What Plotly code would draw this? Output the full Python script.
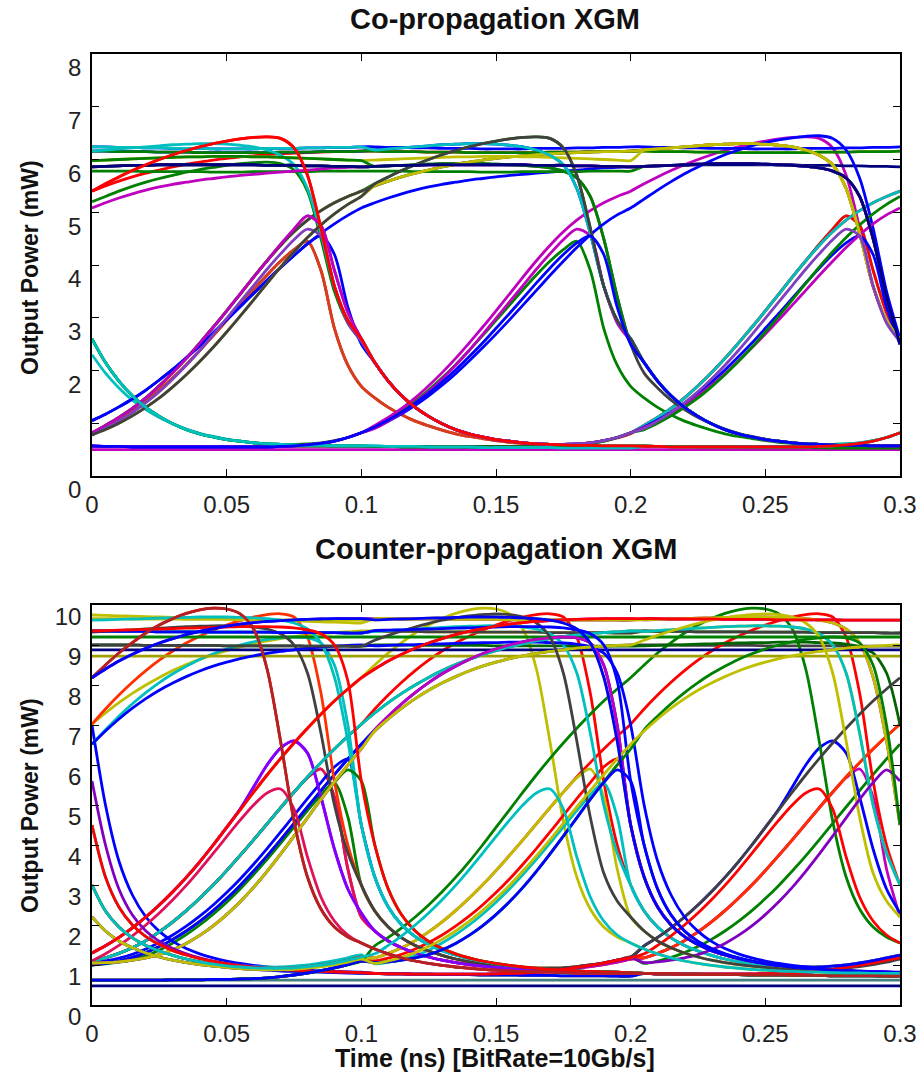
import plotly.graph_objects as go

# ---------------- time grid of one bit slot (ns) ----------------
SLOT_T = [0.000, 0.005, 0.010, 0.015, 0.020, 0.025, 0.030, 0.035, 0.040, 0.045,
          0.050, 0.055, 0.060, 0.065, 0.070, 0.075, 0.080, 0.085, 0.090, 0.095, 0.100]
SLOT_START = [0.0, 0.1, 0.2]
X_TICKS = [0, 0.05, 0.1, 0.15, 0.2, 0.25, 0.3]
X_TICK_TEXT = ["0", "0.05", "0.1", "0.15", "0.2", "0.25", "0.3"]
CO_Y_TICKS = [0, 1, 2, 3, 4, 5, 6, 7, 8]
CO_Y_TEXT = ["0", "", "2", "3", "4", "5", "6", "7", "8"]
CT_Y_TICKS = [0, 1, 2, 3, 4, 5, 6, 7, 8, 9, 10]
CT_Y_TEXT = ["0", "1", "2", "3", "4", "5", "6", "7", "8", "9", "10"]

# ---------------- Co-propagation: per-slot waveform shapes (mW) ----------------
CO_LOW_A = [0.50, 0.50, 0.50, 0.50, 0.50, 0.50, 0.50, 0.50, 0.50, 0.50, 0.50, 0.50, 0.50, 0.50, 0.50, 0.50, 0.50, 0.50, 0.50, 0.50, 0.50]
CO_LOW_B = [0.56, 0.56, 0.56, 0.56, 0.56, 0.56, 0.56, 0.56, 0.56, 0.56, 0.56, 0.56, 0.56, 0.56, 0.56, 0.56, 0.56, 0.56, 0.56, 0.56, 0.56]
CO_LOW_C = [0.57, 0.57, 0.56, 0.56, 0.56, 0.55, 0.55, 0.55, 0.55, 0.54, 0.54, 0.54, 0.54, 0.54, 0.54, 0.53, 0.53, 0.53, 0.53, 0.53, 0.53]
CO_LOW_UP = [0.57, 0.56, 0.56, 0.55, 0.55, 0.55, 0.55, 0.55, 0.55, 0.55, 0.55, 0.55, 0.55, 0.55, 0.56, 0.57, 0.59, 0.62, 0.66, 0.73, 0.82]
CO_DECAY_A = [2.60, 2.15, 1.80, 1.52, 1.30, 1.13, 0.99, 0.88, 0.80, 0.74, 0.69, 0.66, 0.63, 0.61, 0.60, 0.59, 0.58, 0.58, 0.57, 0.57, 0.57]
CO_DECAY_A_UP = [2.60, 2.15, 1.80, 1.52, 1.30, 1.13, 0.99, 0.88, 0.80, 0.74, 0.69, 0.66, 0.63, 0.61, 0.60, 0.60, 0.61, 0.63, 0.67, 0.73, 0.82]
CO_DECAY_B = [1.70, 1.48, 1.30, 1.16, 1.04, 0.95, 0.87, 0.80, 0.75, 0.71, 0.67, 0.64, 0.62, 0.60, 0.59, 0.58, 0.57, 0.57, 0.56, 0.56, 0.56]
CO_DECAY_B_UP = [1.70, 1.48, 1.30, 1.16, 1.04, 0.95, 0.87, 0.80, 0.75, 0.71, 0.67, 0.64, 0.62, 0.60, 0.59, 0.59, 0.60, 0.62, 0.66, 0.72, 0.80]
CO_DECAY_C = [2.30, 1.95, 1.67, 1.44, 1.26, 1.11, 0.99, 0.89, 0.81, 0.75, 0.70, 0.66, 0.63, 0.61, 0.60, 0.59, 0.58, 0.58, 0.57, 0.57, 0.57]
CO_RISE_FALL_HI = [0.82, 0.96, 1.11, 1.28, 1.48, 1.71, 1.96, 2.23, 2.52, 2.82, 3.13, 3.45, 3.77, 4.08, 4.39, 4.68, 4.93, 4.75, 3.90, 3.10, 2.60]
CO_RISE_FALL_MID = [0.78, 0.90, 1.04, 1.20, 1.39, 1.60, 1.84, 2.10, 2.38, 2.68, 2.99, 3.30, 3.61, 3.92, 4.21, 4.48, 4.68, 4.55, 3.60, 2.90, 2.55]
CO_RISE_FALL_LO = [0.80, 0.93, 1.07, 1.23, 1.42, 1.63, 1.86, 2.11, 2.38, 2.66, 2.95, 3.24, 3.53, 3.81, 4.07, 4.29, 4.45, 3.90, 2.80, 2.10, 1.70]
CO_RISE_FALL_B = [1.05, 1.17, 1.31, 1.46, 1.63, 1.82, 2.02, 2.24, 2.47, 2.71, 2.96, 3.21, 3.46, 3.71, 3.95, 4.18, 4.40, 4.55, 4.20, 3.20, 2.50]
CO_RISE_FALL_B2 = [0.82, 0.93, 1.06, 1.21, 1.38, 1.57, 1.78, 2.01, 2.26, 2.52, 2.80, 3.08, 3.37, 3.66, 3.94, 4.20, 4.42, 4.55, 4.20, 3.20, 2.50]
CO_RISE_CONT_A = [0.82, 0.96, 1.11, 1.28, 1.48, 1.71, 1.96, 2.23, 2.52, 2.82, 3.13, 3.45, 3.77, 4.08, 4.37, 4.63, 4.85, 5.03, 5.18, 5.30, 5.40]
CO_RISE_CONT_B = [1.05, 1.17, 1.31, 1.46, 1.63, 1.82, 2.02, 2.24, 2.47, 2.71, 2.96, 3.21, 3.46, 3.71, 3.95, 4.18, 4.40, 4.60, 4.78, 4.94, 5.08]
CO_RISE_CONT_B2 = [0.82, 0.92, 1.04, 1.18, 1.34, 1.52, 1.72, 1.94, 2.18, 2.43, 2.69, 2.96, 3.24, 3.52, 3.80, 4.07, 4.33, 4.57, 4.78, 4.95, 5.08]
CO_RISE_CONT_C = [0.78, 0.88, 1.00, 1.14, 1.30, 1.48, 1.69, 1.92, 2.17, 2.44, 2.73, 3.03, 3.34, 3.65, 3.96, 4.25, 4.52, 4.76, 4.97, 5.15, 5.30]
CO_H2_CONT_A = [5.40, 5.50, 5.59, 5.67, 5.74, 5.80, 5.86, 5.91, 5.95, 5.99, 6.02, 6.05, 6.07, 6.09, 6.11, 6.12, 6.13, 6.14, 6.15, 6.15, 6.16]
CO_H2_CONT_B = [5.08, 5.18, 5.27, 5.35, 5.42, 5.48, 5.53, 5.57, 5.61, 5.64, 5.67, 5.70, 5.72, 5.74, 5.76, 5.78, 5.80, 5.82, 5.84, 5.85, 5.86]
CO_H2_FALL_A = [5.40, 5.54, 5.67, 5.79, 5.90, 6.00, 6.09, 6.17, 6.24, 6.30, 6.35, 6.39, 6.42, 6.43, 6.40, 6.22, 5.70, 4.70, 3.60, 2.95, 2.60]
CO_H2_FALL_B = [5.08, 5.25, 5.42, 5.58, 5.73, 5.86, 5.98, 6.09, 6.18, 6.26, 6.32, 6.37, 6.41, 6.44, 6.45, 6.40, 6.18, 5.65, 4.70, 3.50, 2.60]
CO_H2_FALL_C = [5.20, 5.30, 5.40, 5.49, 5.57, 5.64, 5.70, 5.76, 5.81, 5.85, 5.89, 5.92, 5.94, 5.95, 5.92, 5.80, 5.40, 4.50, 3.50, 2.90, 2.55]
CO_HIGH_A = [6.16, 6.16, 6.15, 6.15, 6.15, 6.14, 6.14, 6.14, 6.13, 6.13, 6.13, 6.13, 6.13, 6.13, 6.14, 6.14, 6.14, 6.15, 6.15, 6.15, 6.16]
CO_HIGH_B = [5.86, 5.87, 5.88, 5.89, 5.89, 5.90, 5.90, 5.90, 5.90, 5.90, 5.90, 5.90, 5.90, 5.89, 5.89, 5.89, 5.88, 5.88, 5.87, 5.87, 5.86]
CO_HIGH_C = [6.24, 6.24, 6.23, 6.23, 6.22, 6.22, 6.21, 6.21, 6.21, 6.20, 6.20, 6.20, 6.20, 6.21, 6.21, 6.21, 6.22, 6.22, 6.23, 6.23, 6.24]
CO_HIGH_D = [5.98, 5.99, 6.00, 6.01, 6.02, 6.03, 6.04, 6.05, 6.05, 6.06, 6.06, 6.06, 6.05, 6.05, 6.04, 6.03, 6.02, 6.01, 6.00, 5.99, 5.98]
CO_HIGH_E = [5.78, 5.78, 5.78, 5.78, 5.77, 5.77, 5.77, 5.77, 5.77, 5.76, 5.76, 5.76, 5.77, 5.77, 5.77, 5.77, 5.77, 5.78, 5.78, 5.78, 5.78]
CO_HIGH_FALL_A = [6.16, 6.18, 6.20, 6.22, 6.24, 6.26, 6.28, 6.29, 6.30, 6.30, 6.29, 6.27, 6.24, 6.18, 6.08, 5.90, 5.45, 4.60, 3.60, 2.95, 2.60]
CO_HIGH_FALL_B = [5.86, 5.87, 5.88, 5.89, 5.90, 5.91, 5.92, 5.92, 5.92, 5.92, 5.91, 5.90, 5.89, 5.87, 5.84, 5.78, 5.65, 5.30, 4.50, 3.40, 2.50]

CO_PATTERNS = [
    ("rise_fall_hi", "decay_a", "low_c"),
    ("rise_fall_lo", "decay_b_up", "rise_cont_a"),
    ("rise_fall_lo", "decay_b", "low_c"),
    ("rise_cont_a", "h2_fall_a", "decay_a"),
    ("rise_cont_a", "h2_cont_a", "high_a"),
    ("rise_cont_b", "h2_cont_b", "high_fall_b"),
    ("rise_cont_a", "h2_cont_a", "high_fall_a"),
    ("decay_a", "low_up", "rise_fall_hi"),
    ("decay_a_up", "rise_fall_lo", "decay_b"),
    ("decay_c", "low_c", "low_up"),
    ("low_a", "low_a", "low_a"),
    ("low_b", "low_b", "low_b"),
    ("low_up", "rise_cont_a", "h2_fall_a"),
    ("h2_fall_a", "decay_a_up", "rise_fall_hi"),
    ("h2_fall_c", "decay_a", "low_c"),
    ("h2_cont_a", "high_a", "high_fall_a"),
    ("high_a", "high_fall_a", "decay_a"),
    ("high_c", "high_c", "high_c"),
    ("high_b", "high_b", "high_b"),
    ("high_a", "high_a", "high_a"),
    ("high_d", "high_d", "high_fall_a"),
    ("high_fall_a", "decay_a_up", "rise_cont_a"),
    ("high_e", "high_e", "high_fall_b"),
    ("h2_cont_b", "high_b", "high_fall_b"),
    ("high_b", "high_fall_b", "decay_c"),
    ("rise_fall_b", "decay_a_up", "rise_fall_b2"),
    ("high_d", "high_fall_b", "decay_a_up"),
    ("low_up", "rise_cont_b2", "h2_fall_b"),
    ("rise_fall_hi", "decay_a_up", "rise_cont_b2"),
    ("low_up", "rise_fall_mid", "decay_a"),
    ("decay_a", "low_up", "rise_cont_c"),
    ("rise_cont_c", "h2_cont_a", "high_fall_a"),
    ("rise_fall_mid", "decay_a_up", "rise_fall_mid"),
    ("high_c", "high_fall_a", "decay_a_up"),
    ("rise_cont_c", "h2_fall_a", "decay_a"),
    ("high_b", "high_b", "high_fall_b"),
    ("decay_a", "low_c", "low_up"),
    ("low_up", "rise_fall_b2", "decay_a"),
    ("h2_fall_a", "decay_a", "low_up"),
]
CO_COLORS = [
    "#7F3FBF", "#FF0000", "#D2401E", "#008000", "#BFBF00", "#0000FF", "#404040",
    "#00BFBF", "#008000", "#00BFBF", "#BF00BF", "#404040", "#BF00BF", "#FF0000",
    "#008000", "#FF0000", "#0000FF", "#0000FF", "#00007F", "#008000", "#BFBF00",
    "#00BFBF", "#008000", "#BF00BF", "#404040", "#0000FF", "#008000", "#0000FF",
    "#BF00BF", "#BF00BF", "#008000", "#BFBF00", "#7F3FBF", "#00BFBF", "#404040",
    "#00007F", "#00BFBF", "#0000FF", "#FF0000",
]

# ---------------- Counter-propagation: per-slot waveform shapes (mW) ----------------
CT_LOW_A = [0.62, 0.62, 0.62, 0.62, 0.62, 0.62, 0.62, 0.62, 0.62, 0.62, 0.62, 0.62, 0.62, 0.62, 0.62, 0.62, 0.62, 0.62, 0.62, 0.62, 0.62]
CT_LOW_B = [0.48, 0.48, 0.48, 0.48, 0.48, 0.48, 0.48, 0.48, 0.48, 0.48, 0.48, 0.48, 0.48, 0.48, 0.48, 0.48, 0.48, 0.48, 0.48, 0.48, 0.48]
CT_LOW_UP = [0.62, 0.62, 0.62, 0.62, 0.62, 0.62, 0.63, 0.63, 0.63, 0.64, 0.64, 0.65, 0.66, 0.68, 0.71, 0.75, 0.80, 0.86, 0.93, 1.01, 1.10]
CT_LOW_C = [0.79, 0.79, 0.78, 0.78, 0.77, 0.77, 0.76, 0.76, 0.76, 0.75, 0.75, 0.75, 0.74, 0.74, 0.74, 0.73, 0.73, 0.73, 0.73, 0.72, 0.72]
CT_LOW_C_UP = [0.79, 0.79, 0.78, 0.78, 0.77, 0.77, 0.77, 0.77, 0.77, 0.77, 0.78, 0.79, 0.80, 0.82, 0.85, 0.89, 0.94, 0.99, 1.05, 1.12, 1.18]
CT_DECAY_A = [2.20, 1.85, 1.60, 1.43, 1.30, 1.20, 1.12, 1.06, 1.01, 0.97, 0.94, 0.91, 0.89, 0.87, 0.85, 0.84, 0.83, 0.82, 0.81, 0.80, 0.79]
CT_DECAY_A_UP = [2.20, 1.85, 1.60, 1.43, 1.30, 1.20, 1.12, 1.06, 1.01, 0.97, 0.94, 0.91, 0.89, 0.88, 0.88, 0.89, 0.92, 0.96, 1.01, 1.07, 1.15]
CT_DECAY_B = [3.00, 2.35, 1.95, 1.68, 1.49, 1.35, 1.24, 1.15, 1.08, 1.02, 0.98, 0.94, 0.91, 0.89, 0.87, 0.85, 0.84, 0.83, 0.82, 0.81, 0.80]
CT_DECAY_B_UP = [3.00, 2.35, 1.95, 1.68, 1.49, 1.35, 1.24, 1.15, 1.08, 1.02, 0.98, 0.95, 0.93, 0.92, 0.92, 0.93, 0.96, 1.00, 1.05, 1.12, 1.20]
CT_DECAY_C = [4.50, 3.20, 2.45, 2.00, 1.71, 1.51, 1.36, 1.25, 1.16, 1.09, 1.03, 0.98, 0.94, 0.91, 0.89, 0.87, 0.85, 0.84, 0.83, 0.82, 0.81]
CT_DECAY_C_UP = [4.50, 3.20, 2.45, 2.00, 1.71, 1.51, 1.36, 1.25, 1.16, 1.09, 1.03, 0.99, 0.96, 0.95, 0.95, 0.97, 1.00, 1.05, 1.11, 1.18, 1.25]
CT_DECAY_D = [7.00, 5.00, 3.60, 2.75, 2.20, 1.84, 1.59, 1.41, 1.28, 1.18, 1.10, 1.04, 0.99, 0.95, 0.92, 0.89, 0.87, 0.85, 0.84, 0.83, 0.82]
CT_DECAY_E = [1.55, 1.40, 1.28, 1.18, 1.10, 1.04, 0.99, 0.95, 0.92, 0.89, 0.87, 0.85, 0.84, 0.83, 0.82, 0.81, 0.80, 0.80, 0.79, 0.79, 0.79]
CT_DECAY_G = [5.60, 4.00, 2.90, 2.25, 1.85, 1.59, 1.41, 1.28, 1.18, 1.10, 1.04, 0.99, 0.95, 0.92, 0.89, 0.87, 0.85, 0.84, 0.83, 0.82, 0.81]
CT_RISE_FALL_A = [1.10, 1.18, 1.29, 1.43, 1.61, 1.83, 2.08, 2.36, 2.67, 3.00, 3.36, 3.74, 4.13, 4.53, 4.93, 5.32, 5.68, 5.90, 5.20, 3.40, 2.20]
CT_RISE_FALL_B = [1.30, 1.48, 1.69, 1.93, 2.20, 2.50, 2.83, 3.19, 3.58, 4.00, 4.44, 4.90, 5.45, 6.00, 6.42, 6.60, 6.30, 5.20, 3.90, 2.90, 2.30]
CT_RISE_FALL_C = [1.05, 1.10, 1.17, 1.27, 1.40, 1.56, 1.75, 1.97, 2.22, 2.50, 2.81, 3.15, 3.52, 3.91, 4.32, 4.74, 5.16, 5.56, 5.95, 6.15, 4.50]
CT_RISE_FALL_D = [1.00, 1.03, 1.07, 1.13, 1.23, 1.37, 1.55, 1.76, 2.00, 2.27, 2.57, 2.90, 3.26, 3.64, 4.04, 4.45, 4.86, 5.25, 5.55, 4.70, 3.00]
CT_RISE_FALL_E = [1.05, 1.06, 1.08, 1.12, 1.18, 1.26, 1.38, 1.54, 1.74, 1.98, 2.26, 2.58, 2.94, 3.34, 3.77, 4.22, 4.68, 5.14, 5.56, 5.88, 5.60]
CT_RISE_FALL_F = [1.10, 1.28, 1.49, 1.73, 2.00, 2.30, 2.63, 2.99, 3.38, 3.79, 4.21, 4.62, 5.00, 5.30, 5.40, 4.90, 3.70, 2.70, 2.10, 1.75, 1.55]
CT_RISE_CONT_A = [1.10, 1.18, 1.29, 1.43, 1.61, 1.83, 2.08, 2.36, 2.67, 3.00, 3.36, 3.74, 4.13, 4.53, 4.93, 5.32, 5.70, 6.06, 6.40, 6.72, 7.02]
CT_RISE_CONT_B = [1.30, 1.48, 1.69, 1.93, 2.20, 2.50, 2.83, 3.19, 3.58, 4.00, 4.44, 4.88, 5.32, 5.75, 6.16, 6.55, 6.92, 7.27, 7.60, 7.90, 8.18]
CT_RISE_CONT_C = [1.00, 1.04, 1.10, 1.19, 1.31, 1.46, 1.64, 1.85, 2.09, 2.36, 2.66, 2.99, 3.35, 3.73, 4.13, 4.54, 4.95, 5.36, 5.76, 6.15, 6.52]
CT_RISE_CONT_D = [1.05, 1.06, 1.08, 1.12, 1.18, 1.26, 1.38, 1.54, 1.74, 1.98, 2.26, 2.58, 2.94, 3.34, 3.77, 4.22, 4.68, 5.14, 5.58, 6.00, 6.40]
CT_H2_CONT_A = [7.02, 7.30, 7.56, 7.79, 8.00, 8.19, 8.36, 8.51, 8.64, 8.76, 8.86, 8.95, 9.03, 9.10, 9.16, 9.21, 9.25, 9.28, 9.31, 9.33, 9.35]
CT_H2_CONT_B = [8.18, 8.40, 8.60, 8.77, 8.92, 9.05, 9.16, 9.26, 9.34, 9.41, 9.47, 9.52, 9.56, 9.59, 9.61, 9.63, 9.64, 9.65, 9.66, 9.66, 9.66]
CT_H2_CONT_C = [6.52, 6.85, 7.15, 7.42, 7.66, 7.87, 8.05, 8.21, 8.35, 8.47, 8.57, 8.66, 8.73, 8.79, 8.84, 8.88, 8.92, 8.95, 8.97, 8.99, 9.00]
CT_H2_FALL_A = [7.02, 7.40, 7.75, 8.07, 8.36, 8.62, 8.85, 9.05, 9.22, 9.37, 9.50, 9.61, 9.70, 9.76, 9.78, 9.70, 9.20, 7.80, 5.60, 4.00, 3.00]
CT_H2_FALL_B = [8.18, 8.50, 8.80, 9.06, 9.30, 9.50, 9.66, 9.79, 9.88, 9.92, 9.90, 9.78, 9.40, 8.40, 6.60, 4.60, 3.20, 2.40, 1.95, 1.70, 1.55]
CT_H2_FALL_C = [6.52, 6.88, 7.22, 7.53, 7.81, 8.06, 8.28, 8.47, 8.64, 8.78, 8.90, 9.00, 9.08, 9.14, 9.18, 9.20, 9.18, 9.05, 8.50, 7.00, 4.50]
CT_HIGH_A = [9.66, 9.66, 9.66, 9.65, 9.65, 9.65, 9.65, 9.64, 9.64, 9.64, 9.64, 9.63, 9.63, 9.63, 9.63, 9.63, 9.62, 9.62, 9.62, 9.62, 9.62]
CT_HIGH_B = [9.35, 9.35, 9.34, 9.34, 9.34, 9.33, 9.33, 9.33, 9.33, 9.32, 9.32, 9.32, 9.32, 9.32, 9.31, 9.31, 9.31, 9.31, 9.31, 9.30, 9.30]
CT_HIGH_C = [9.00, 9.00, 9.00, 9.00, 8.99, 8.99, 8.99, 8.99, 8.99, 8.99, 8.98, 8.98, 8.98, 8.98, 8.98, 8.98, 8.97, 8.97, 8.97, 8.97, 8.97]
CT_HIGH_D = [8.88, 8.88, 8.88, 8.88, 8.88, 8.88, 8.88, 8.88, 8.88, 8.88, 8.88, 8.88, 8.88, 8.88, 8.88, 8.88, 8.88, 8.88, 8.88, 8.88, 8.88]
CT_HIGH_E = [9.75, 9.74, 9.73, 9.72, 9.71, 9.70, 9.69, 9.68, 9.67, 9.66, 9.65, 9.64, 9.63, 9.62, 9.61, 9.60, 9.59, 9.58, 9.57, 9.56, 9.55]
CT_HIGH_F = [9.20, 9.20, 9.20, 9.20, 9.20, 9.20, 9.20, 9.20, 9.20, 9.20, 9.20, 9.20, 9.20, 9.20, 9.20, 9.20, 9.20, 9.20, 9.20, 9.20, 9.20]
CT_HIGH_G = [8.72, 8.72, 8.72, 8.72, 8.72, 8.72, 8.72, 8.72, 8.72, 8.72, 8.72, 8.72, 8.72, 8.72, 8.72, 8.72, 8.72, 8.72, 8.72, 8.72, 8.72]
CT_HIGH_FALL_A = [9.62, 9.63, 9.64, 9.65, 9.66, 9.67, 9.68, 9.69, 9.70, 9.70, 9.70, 9.69, 9.68, 9.66, 9.62, 9.55, 9.40, 9.05, 8.20, 6.60, 4.50]
CT_HIGH_FALL_B = [9.32, 9.34, 9.36, 9.38, 9.40, 9.42, 9.44, 9.46, 9.47, 9.48, 9.48, 9.47, 9.45, 9.40, 9.28, 9.00, 8.30, 6.80, 5.00, 3.80, 3.00]
CT_HIGH_FALL_C = [8.97, 8.98, 8.99, 9.00, 9.01, 9.02, 9.03, 9.04, 9.05, 9.06, 9.06, 9.07, 9.07, 9.07, 9.06, 9.05, 9.02, 8.95, 8.80, 8.30, 7.00]
CT_HIGH_FALL_D = [9.00, 9.12, 9.24, 9.35, 9.45, 9.54, 9.62, 9.68, 9.73, 9.76, 9.78, 9.76, 9.70, 9.55, 9.20, 8.30, 6.60, 4.70, 3.30, 2.60, 2.20]
CT_HIGH_FALL_E = [9.35, 9.36, 9.37, 9.38, 9.39, 9.40, 9.41, 9.42, 9.43, 9.44, 9.45, 9.46, 9.46, 9.46, 9.45, 9.43, 9.38, 9.28, 9.00, 8.10, 5.60]

CT_PATTERNS = [
    ("rise_fall_a", "decay_a_up", "rise_cont_a"),
    ("rise_fall_a", "decay_a", "low_c"),
    ("rise_fall_b", "decay_a_up", "rise_fall_a"),
    ("rise_fall_c", "decay_c", "low_c_up"),
    ("rise_fall_d", "decay_b_up", "rise_cont_c"),
    ("rise_cont_a", "h2_fall_a", "decay_b"),
    ("rise_cont_b", "h2_cont_b", "high_fall_a"),
    ("rise_cont_c", "h2_cont_c", "high_c"),
    ("rise_cont_a", "h2_cont_a", "high_b"),
    ("rise_cont_b", "h2_fall_b", "decay_e"),
    ("rise_cont_c", "h2_fall_c", "decay_c_up"),
    ("decay_d", "low_c_up", "rise_fall_b"),
    ("decay_c_up", "rise_fall_d", "decay_b"),
    ("decay_b_up", "rise_cont_a", "h2_fall_a"),
    ("decay_b", "low_c", "low_c_up"),
    ("decay_a_up", "rise_fall_a", "decay_a"),
    ("decay_a", "low_c", "low_c"),
    ("low_a", "low_a", "low_a"),
    ("low_b", "low_b", "low_b"),
    ("low_up", "rise_fall_c", "decay_c"),
    ("low_up", "rise_cont_b", "h2_fall_b"),
    ("h2_cont_a", "high_b", "high_fall_b"),
    ("h2_fall_a", "decay_b_up", "rise_cont_a"),
    ("h2_fall_b", "decay_e", "low_c_up"),
    ("h2_cont_b", "high_a", "high_a"),
    ("h2_fall_c", "decay_c", "low_c"),
    ("high_e", "high_a", "high_fall_a"),
    ("high_a", "high_fall_a", "decay_c_up"),
    ("high_b", "high_b", "high_b"),
    ("high_c", "high_c", "high_fall_c"),
    ("high_d", "high_d", "high_d"),
    ("high_f", "high_f", "high_f"),
    ("high_g", "high_g", "high_g"),
    ("high_b", "high_fall_b", "decay_b"),
    ("high_fall_b", "decay_b_up", "rise_cont_b"),
    ("high_fall_a", "decay_c", "low_c"),
    ("h2_cont_c", "high_fall_c", "decay_d"),
    ("rise_fall_b", "decay_a", "low_c_up"),
    ("rise_cont_a", "h2_cont_a", "high_fall_b"),
    ("rise_fall_e", "decay_g", "low_c"),
    ("rise_fall_f", "decay_e", "low_c_up"),
    ("rise_cont_d", "h2_fall_c", "decay_c"),
    ("rise_cont_d", "h2_cont_c", "high_fall_d"),
    ("decay_g", "low_c_up", "rise_fall_e"),
    ("decay_c", "low_c_up", "rise_fall_f"),
    ("high_c", "high_fall_d", "decay_a_up"),
    ("high_b", "high_fall_e", "decay_g"),
    ("high_fall_e", "decay_g", "low_c_up"),
    ("low_up", "rise_cont_d", "h2_fall_c"),
    ("low_up", "rise_fall_e", "decay_g"),
    ("decay_a_up", "rise_cont_c", "h2_cont_c"),
    ("rise_cont_b", "h2_cont_b", "high_a"),
    ("decay_b_up", "rise_fall_f", "decay_e"),
    ("h2_fall_b", "decay_e", "low_c"),
    ("h2_cont_b", "high_fall_a", "decay_c_up"),
]
CT_COLORS = [
    "#FF0000", "#E0105A", "#BF00BF", "#0000FF", "#008000", "#FF0000", "#BF00BF",
    "#404040", "#008000", "#BFBF00", "#0000FF", "#0000FF", "#00BFBF", "#FF0000",
    "#008000", "#BFBF00", "#0000FF", "#408080", "#00007F", "#FF0000", "#008000",
    "#BFBF00", "#FF3000", "#FF0000", "#8000C0", "#00BFBF", "#BFBF00", "#BFBF00",
    "#404040", "#006400", "#00007F", "#008000", "#A0A000", "#00BFBF", "#404040",
    "#00BFBF", "#0000FF", "#8000FF", "#00BFBF", "#008000", "#E0105A", "#BF00BF",
    "#BFBF00", "#8000C0", "#FF0000", "#404040", "#0000FF", "#FF0000", "#008000",
    "#0000FF", "#BFBF00", "#FF0000", "#00BFBF", "#B22222", "#0000FF",
]

CO_SEGMENTS = {
    "low_a": CO_LOW_A, "low_b": CO_LOW_B, "low_c": CO_LOW_C, "low_up": CO_LOW_UP,
    "decay_a": CO_DECAY_A, "decay_a_up": CO_DECAY_A_UP, "decay_b": CO_DECAY_B,
    "decay_b_up": CO_DECAY_B_UP, "decay_c": CO_DECAY_C,
    "rise_fall_hi": CO_RISE_FALL_HI, "rise_fall_mid": CO_RISE_FALL_MID, "rise_fall_lo": CO_RISE_FALL_LO,
    "rise_fall_b": CO_RISE_FALL_B, "rise_fall_b2": CO_RISE_FALL_B2,
    "rise_cont_a": CO_RISE_CONT_A, "rise_cont_b": CO_RISE_CONT_B, "rise_cont_b2": CO_RISE_CONT_B2,
    "rise_cont_c": CO_RISE_CONT_C,
    "h2_cont_a": CO_H2_CONT_A, "h2_cont_b": CO_H2_CONT_B,
    "h2_fall_a": CO_H2_FALL_A, "h2_fall_b": CO_H2_FALL_B, "h2_fall_c": CO_H2_FALL_C,
    "high_a": CO_HIGH_A, "high_b": CO_HIGH_B, "high_c": CO_HIGH_C, "high_d": CO_HIGH_D,
    "high_e": CO_HIGH_E, "high_fall_a": CO_HIGH_FALL_A, "high_fall_b": CO_HIGH_FALL_B,
}
CT_SEGMENTS = {
    "low_a": CT_LOW_A, "low_b": CT_LOW_B, "low_up": CT_LOW_UP, "low_c": CT_LOW_C, "low_c_up": CT_LOW_C_UP,
    "decay_a": CT_DECAY_A, "decay_a_up": CT_DECAY_A_UP, "decay_b": CT_DECAY_B,
    "decay_b_up": CT_DECAY_B_UP, "decay_c": CT_DECAY_C, "decay_c_up": CT_DECAY_C_UP,
    "decay_d": CT_DECAY_D, "decay_e": CT_DECAY_E, "decay_g": CT_DECAY_G,
    "rise_fall_a": CT_RISE_FALL_A, "rise_fall_b": CT_RISE_FALL_B, "rise_fall_c": CT_RISE_FALL_C,
    "rise_fall_d": CT_RISE_FALL_D, "rise_fall_e": CT_RISE_FALL_E, "rise_fall_f": CT_RISE_FALL_F,
    "rise_cont_a": CT_RISE_CONT_A, "rise_cont_b": CT_RISE_CONT_B, "rise_cont_c": CT_RISE_CONT_C,
    "rise_cont_d": CT_RISE_CONT_D,
    "h2_cont_a": CT_H2_CONT_A, "h2_cont_b": CT_H2_CONT_B, "h2_cont_c": CT_H2_CONT_C,
    "h2_fall_a": CT_H2_FALL_A, "h2_fall_b": CT_H2_FALL_B, "h2_fall_c": CT_H2_FALL_C,
    "high_a": CT_HIGH_A, "high_b": CT_HIGH_B, "high_c": CT_HIGH_C, "high_d": CT_HIGH_D,
    "high_e": CT_HIGH_E, "high_f": CT_HIGH_F, "high_g": CT_HIGH_G,
    "high_fall_a": CT_HIGH_FALL_A, "high_fall_b": CT_HIGH_FALL_B, "high_fall_c": CT_HIGH_FALL_C,
    "high_fall_d": CT_HIGH_FALL_D, "high_fall_e": CT_HIGH_FALL_E,
}


def build_trace(pattern, segments):
    xs, ys = [], []
    for k, name in enumerate(pattern):
        vals = segments[name]
        assert len(vals) == len(SLOT_T), name
        first = 0 if k == 0 else 1
        for i in range(first, len(SLOT_T)):
            xs.append(round(SLOT_START[k] + SLOT_T[i], 4))
            ys.append(vals[i])
    return xs, ys


W, H = 919, 1075
TOP_BOX = (92, 900, 54, 476)
BOT_BOX = (92, 900, 605, 1005)


def xdom(b):
    return [b[0] / W, b[1] / W]


def ydom(b):
    return [1 - b[3] / H, 1 - b[2] / H]


fig = go.Figure()
for pat, col in zip(CO_PATTERNS, CO_COLORS):
    x, y = build_trace(pat, CO_SEGMENTS)
    fig.add_trace(go.Scatter(x=x, y=y, mode="lines", xaxis="x", yaxis="y",
                             line=dict(color=col, width=2.8, shape="spline", smoothing=0.8),
                             showlegend=False, hoverinfo="skip"))
for pat, col in zip(CT_PATTERNS, CT_COLORS):
    x, y = build_trace(pat, CT_SEGMENTS)
    fig.add_trace(go.Scatter(x=x, y=y, mode="lines", xaxis="x2", yaxis="y2",
                             line=dict(color=col, width=2.8, shape="spline", smoothing=0.8),
                             showlegend=False, hoverinfo="skip"))

TICK_FONT = dict(family="Liberation Sans, Arial, sans-serif", size=24, color="#222222")
axis_common = dict(showline=True, linecolor="black", linewidth=1.6, mirror="ticks",
                   ticks="inside", ticklen=7, tickwidth=1.2, tickcolor="black",
                   showgrid=False, zeroline=False, tickfont=TICK_FONT, fixedrange=True,
                   automargin=False)

fig.update_layout(
    width=W, height=H, autosize=False,
    margin=dict(l=0, r=0, t=0, b=0, pad=0),
    paper_bgcolor="white", plot_bgcolor="white",
    xaxis=dict(domain=xdom(TOP_BOX), anchor="y", range=[0, 0.3], tickvals=X_TICKS,
               ticktext=X_TICK_TEXT, ticklabelstandoff=6, **axis_common),
    yaxis=dict(domain=ydom(TOP_BOX), anchor="x", range=[0, 8], tickvals=CO_Y_TICKS,
               ticktext=CO_Y_TEXT, ticklabelshift=14, ticklabelstandoff=4, **axis_common),
    xaxis2=dict(domain=xdom(BOT_BOX), anchor="y2", range=[0, 0.3], tickvals=X_TICKS,
                ticktext=X_TICK_TEXT, ticklabelstandoff=6, **axis_common),
    yaxis2=dict(domain=ydom(BOT_BOX), anchor="x2", range=[0, 10], tickvals=CT_Y_TICKS,
                ticktext=CT_Y_TEXT, ticklabelshift=12, ticklabelstandoff=4, **axis_common),
)

BOLD = "Liberation Sans, Arial, sans-serif"
ann = [
    dict(text="<b>Co-propagation XGM</b>", x=495 / W, y=1 - 19 / H, font=dict(family=BOLD, size=29, color="#111")),
    dict(text="<b>Counter-propagation XGM</b>", x=496 / W, y=1 - 549 / H, font=dict(family=BOLD, size=29, color="#111")),
    dict(text="<b>Time (ns) [BitRate=10Gb/s]</b>", x=495 / W, y=1 - 1058 / H, font=dict(family=BOLD, size=25, color="#111")),
    dict(text="<b>Output Power (mW)</b>", x=30 / W, y=1 - 268 / H, textangle=-90, font=dict(family=BOLD, size=23, color="#111")),
    dict(text="<b>Output Power (mW)</b>", x=30 / W, y=1 - 806 / H, textangle=-90, font=dict(family=BOLD, size=23, color="#111")),
]
for a in ann:
    a.update(xref="paper", yref="paper", showarrow=False, xanchor="center", yanchor="middle")
fig.update_layout(annotations=ann)

fig.write_html("out.html")
